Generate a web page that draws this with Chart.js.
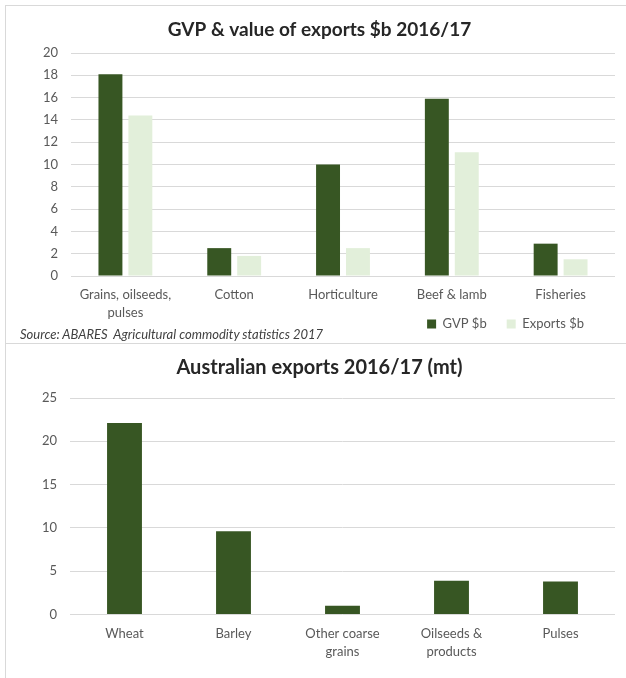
<!DOCTYPE html>
<html>
<head>
<meta charset="utf-8">
<script src="https://cdn.jsdelivr.net/npm/chart.js@4/dist/chart.umd.min.js"></script>
<style>
    body { margin: 0; background: #fff; width: 626px; height: 678px; overflow: hidden; position: relative; }
    .c-frame { position: absolute; left: 5px; top: 5px; width: 700px; height: 700px; border: 1px solid #d9d9d9; }
    .c-sep { position: absolute; left: 5px; top: 343px; width: 621px; height: 0; border-top: 1px solid #d9d9d9; }
    canvas { position: absolute; left: 0; }
    .js-top { top: 0; }
    .js-bottom { top: 344px; }
    .c-source { position: absolute; left: 20px; top: 326px; font: italic 13px Lato, sans-serif; line-height: 16px; color: #404040; white-space: nowrap; }
</style>
</head>
<body>
<div class="c-frame"></div>
<div class="c-sep"></div>
<canvas class="js-top" id="gvpChart" width="626" height="343"></canvas>
<canvas class="js-bottom" id="exportChart" width="626" height="334"></canvas>
<div class="c-source">Source: ABARES&nbsp; Agricultural commodity statistics 2017</div>
<script>
'use strict';
const sectors = [['Grains, oilseeds,', 'pulses'], 'Cotton', 'Horticulture', 'Beef & lamb', 'Fisheries'];
const gvp = [18.1, 2.5, 10.0, 15.9, 2.9];
const exportValue = [14.4, 1.8, 2.5, 11.1, 1.5];

const crops = ['Wheat', 'Barley', ['Other coarse', 'grains'], ['Oilseeds &', 'products'], 'Pulses'];
const tonnes = [22.1, 9.6, 1.0, 3.9, 3.8];

const darkGreen = '#375623';
const lightGreen = '#e2efda';
const textColor = '#595959';
const gridColor = '#d9d9d9';

Chart.defaults.font.family = 'Lato, sans-serif';
Chart.defaults.font.size = 13;
Chart.defaults.color = textColor;
Chart.defaults.animation = false;

// nudge title / legend the way Excel places them, and let two-line ticks draw past the axis box
const excelLook = {
    id: 'excelLook',
    afterLayout: function (chart) {
        chart.titleBlock.left += 24;
        chart.scales.x.bottom = chart.height;
        if (chart.options.plugins.legend.display) {
            const lg = chart.legend;
            const h = lg.height;
            lg.right = 604;
            lg.top = 297.5;
            lg.bottom = lg.top + h;
        }
    }
};

const makeScales = function (max, step, yWidth, xHeight, xPad) {
    return {
        x: {
            grid: { display: false, drawTicks: false },
            border: { display: false },
            ticks: { padding: xPad, maxRotation: 0, autoSkip: false, font: { size: 13, lineHeight: 1.35 } },
            afterFit: function (scale) { scale.height = xHeight; }
        },
        y: {
            min: 0,
            max: max,
            grid: { color: gridColor, drawTicks: false },
            border: { display: false },
            ticks: { stepSize: step, padding: 13, font: { size: 13 } },
            afterFit: function (scale) { scale.width = yWidth; }
        }
    };
};

const loadTop = function () {
    const ctx = document.getElementById('gvpChart').getContext('2d');
    new Chart(ctx, {
        type: 'bar',
        data: {
            labels: sectors,
            datasets: [{
                label: 'GVP $b',
                data: gvp,
                backgroundColor: darkGreen,
                categoryPercentage: 0.55,
                barPercentage: 0.8
            }, {
                label: 'Exports $b',
                data: exportValue,
                backgroundColor: lightGreen,
                categoryPercentage: 0.55,
                barPercentage: 0.8
            }]
        },
        options: {
            responsive: false,
            layout: { padding: { left: 0, right: 11, top: 0, bottom: 0 } },
            plugins: {
                title: {
                    display: true,
                    text: 'GVP & value of exports $b 2016/17',
                    color: '#262626',
                    font: { size: 19, weight: 'bold' },
                    padding: { top: 18.6, bottom: 11.6 }
                },
                legend: {
                    display: true,
                    position: 'bottom',
                    align: 'end',
                    labels: { boxWidth: 9, boxHeight: 9, padding: 20, font: { size: 13 }, color: textColor }
                },
                tooltip: { enabled: false }
            },
            scales: makeScales(20, 2, 71, 24, 10)
        },
        plugins: [excelLook]
    });
};

const loadBottom = function () {
    const ctx = document.getElementById('exportChart').getContext('2d');
    new Chart(ctx, {
        type: 'bar',
        data: {
            labels: crops,
            datasets: [{
                label: 'Exports (mt)',
                data: tonnes,
                backgroundColor: darkGreen,
                categoryPercentage: 0.8,
                barPercentage: 0.4
            }]
        },
        options: {
            responsive: false,
            layout: { padding: { left: 0, right: 11, top: 0, bottom: 3.5 } },
            plugins: {
                title: {
                    display: true,
                    text: 'Australian exports 2016/17 (mt)',
                    color: '#262626',
                    font: { size: 20, weight: 'bold' },
                    padding: { top: 12, bottom: 18 }
                },
                legend: { display: false },
                tooltip: { enabled: false }
            },
            scales: makeScales(25, 5, 70, 60, 11)
        },
        plugins: [excelLook]
    });
};

const init = function () {
    loadTop();
    loadBottom();
};

document.addEventListener('DOMContentLoaded', function () {
    init();
});
</script>
</body>
</html>
